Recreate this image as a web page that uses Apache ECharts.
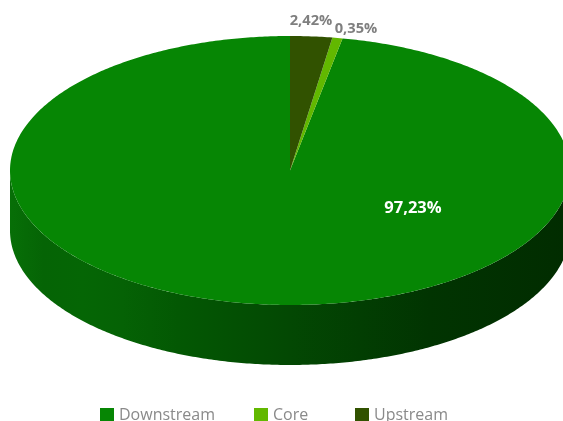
<!DOCTYPE html>
<html><head><meta charset="utf-8">
<style>html,body{margin:0;padding:0;background:#fff;overflow:hidden}#c{width:563px;height:421px}</style>
<script src="https://cdn.jsdelivr.net/npm/echarts@6/dist/echarts.min.js"></script>
</head><body><div id="c"></div>
<script>
const categories = ['Downstream', 'Core', 'Upstream'];
const shares = [97.23, 0.35, 2.42];
const colors = ['#068604', '#62b800', '#315200'];
const labelColors = ['#ffffff', '#7f7f7f', '#7f7f7f'];
const labelFonts = ['bold 16.5px "Open Sans"', 'bold 14.7px "Open Sans"', 'bold 14.7px "Open Sans"'];
const labelAnchors = [[413, 208.5], [356, 28.5], [311, 20.5]];
const legendLefts = [100, 254, 355];

const cx = 290, cy = 170.5, rx = 280, ry = 134.5, depth = 60;
const minAngle = 2.1 * Math.PI / 180;   // smallest drawn slice, as in the reference
const total = shares.reduce((a, b) => a + b, 0);
const TAU = 2 * Math.PI;
// Drawn spans: small slices keep their true share unless under minAngle; the largest absorbs the difference.
const spans = shares.map(v => Math.max(v / total * TAU, minAngle));
const biggest = shares.indexOf(Math.max(...shares));
spans[biggest] -= spans.reduce((a, b) => a + b, 0) - TAU;

const wallFill = {
  type: 'linear', x: 0, y: 0, x2: 1, y2: 0,
  colorStops: [
    { offset: 0, color: '#076f07' }, { offset: 0.06, color: '#056405' },
    { offset: 0.13, color: '#056605' }, { offset: 0.2, color: '#056205' },
    { offset: 0.3, color: '#035803' }, { offset: 0.5, color: '#034803' },
    { offset: 0.75, color: '#013401' }, { offset: 1, color: '#012c00' }
  ]
};
// Angle is measured clockwise from 12 o'clock; slices run counter-clockwise from the top.
function pt(a, dy) { return [cx + rx * Math.sin(a), cy - ry * Math.cos(a) + (dy || 0)]; }
function arc(a0, a1, dy) {
  const n = Math.max(2, Math.ceil(Math.abs(a1 - a0) / 0.01)), out = [];
  for (let i = 0; i <= n; i++) out.push(pt(a0 + (a1 - a0) * i / n, dy));
  return out;
}
function slice(idx) {
  const before = spans.slice(0, idx).reduce((a, b) => a + b, 0);
  return [TAU - before, TAU - before - spans[idx]];
}
const series = categories.map((name, idx) => ({
  type: 'custom', name, coordinateSystem: 'none', silent: true, animation: false,
  itemStyle: { color: colors[idx] },
  data: [[shares[idx]]],
  renderItem: () => {
    const [a1, a0] = slice(idx); // a0 < a1
    const children = [];
    const f0 = Math.max(a0, Math.PI / 2), f1 = Math.min(a1, 3 * Math.PI / 2);
    if (f1 > f0) {
      children.push({ type: 'polygon', shape: { points: arc(f0, f1, 0).concat(arc(f1, f0, depth)) }, style: { fill: wallFill } });
    }
    children.push({ type: 'polygon', shape: { points: [[cx, cy]].concat(arc(a0, a1, 0)) }, style: { fill: colors[idx] } });
    return { type: 'group', children };
  }
}));
// Labels sit above every slice.
series.push({
  type: 'custom', coordinateSystem: 'none', silent: true, animation: false, z: 5,
  data: shares.map(v => [v]),
  renderItem: (params, api) => ({
    type: 'text',
    style: {
      text: api.value(0).toFixed(2).replace('.', ',') + '%',
      x: labelAnchors[params.dataIndex][0], y: labelAnchors[params.dataIndex][1],
      align: 'center', verticalAlign: 'middle',
      fill: labelColors[params.dataIndex], font: labelFonts[params.dataIndex]
    }
  })
});
const chart = echarts.init(document.getElementById('c'), null, { renderer: 'canvas' });
chart.setOption({
  animation: false,
  legend: categories.map((name, i) => ({
    data: [name], left: legendLefts[i], top: 407, padding: 0,
    icon: 'rect', itemWidth: 14, itemHeight: 14, itemGap: 0,
    selectedMode: false,
    textStyle: { color: '#8a8a8a', fontFamily: 'Open Sans', fontSize: 16 }
  })),
  series
});
</script></body></html>
